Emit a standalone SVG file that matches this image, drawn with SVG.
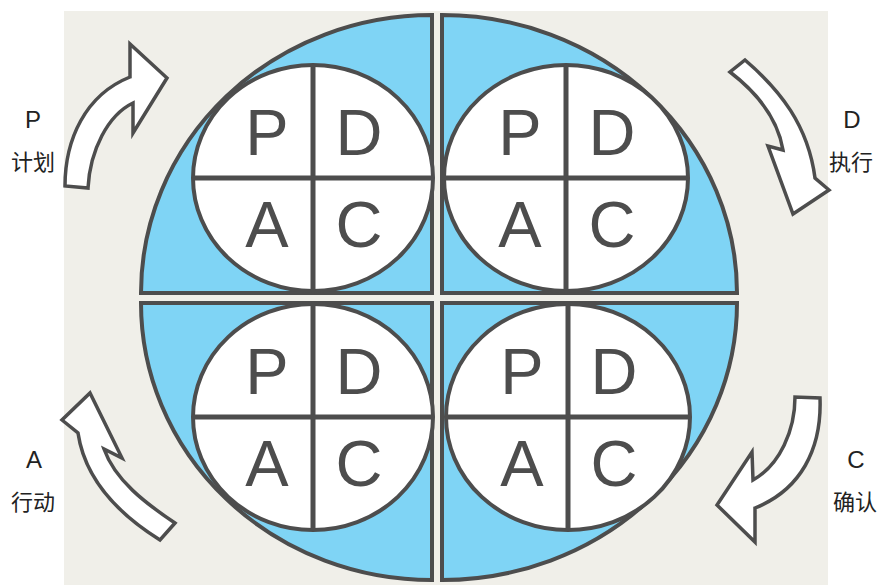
<svg xmlns="http://www.w3.org/2000/svg" width="877" height="585" viewBox="0 0 877 585">
<style>
.q{fill:#7fd4f5;stroke:#4d4d4d;stroke-width:4;stroke-linejoin:miter}
.c{fill:#ffffff;stroke:#4d4d4d;stroke-width:4}
.d{stroke:#4d4d4d;stroke-width:5}
.l{font-family:"Liberation Sans",Arial,sans-serif;font-size:65px;fill:#4d4d4d;text-anchor:middle}
.ar{fill:#ffffff;stroke:#4d4d4d;stroke-width:3.5;stroke-linejoin:miter}
.t{font-family:"Liberation Sans","Noto Sans CJK SC",sans-serif;fill:#222222;text-anchor:middle}
</style>
<rect x="0" y="0" width="877" height="585" fill="#ffffff"/>
<rect x="64" y="11" width="764" height="574" fill="#f0efe9"/>
<g id="quadrants">
<path class="q" d="M432,293 L141,293 A291,278 0 0 1 432,15 Z"/>
<path class="q" d="M442,293 L442,15 A295,278 0 0 1 737,293 Z"/>
<path class="q" d="M432,303 L432,580 A291,277 0 0 1 141,303 Z"/>
<path class="q" d="M442,303 L737,303 A295,277 0 0 1 442,580 Z"/>
</g>
<g id="pdca-tl">
<ellipse class="c" cx="313" cy="178" rx="120" ry="113"/>
<line class="d" x1="313" y1="65" x2="313" y2="291"/>
<line class="d" x1="193" y1="178" x2="433" y2="178"/>
<text class="l" x="267" y="155">P</text><text class="l" x="359" y="155">D</text>
<text class="l" x="267" y="247">A</text><text class="l" x="359" y="247">C</text>
</g>
<g id="pdca-tr">
<ellipse class="c" cx="566" cy="178" rx="122" ry="113"/>
<line class="d" x1="566" y1="65" x2="566" y2="291"/>
<line class="d" x1="444" y1="178" x2="688" y2="178"/>
<text class="l" x="520" y="155">P</text><text class="l" x="612" y="155">D</text>
<text class="l" x="520" y="247">A</text><text class="l" x="612" y="247">C</text>
</g>
<g id="pdca-bl">
<ellipse class="c" cx="313" cy="417" rx="120" ry="113"/>
<line class="d" x1="313" y1="304" x2="313" y2="530"/>
<line class="d" x1="193" y1="417" x2="433" y2="417"/>
<text class="l" x="267" y="394">P</text><text class="l" x="359" y="394">D</text>
<text class="l" x="267" y="486">A</text><text class="l" x="359" y="486">C</text>
</g>
<g id="pdca-br">
<ellipse class="c" cx="568" cy="417" rx="122" ry="113"/>
<line class="d" x1="568" y1="304" x2="568" y2="530"/>
<line class="d" x1="446" y1="417" x2="690" y2="417"/>
<text class="l" x="522" y="394">P</text><text class="l" x="614" y="394">D</text>
<text class="l" x="522" y="486">A</text><text class="l" x="614" y="486">C</text>
</g>
<g id="connectors">
<path class="ar" d="M65,186 C65,140 85,95 130,77 L130,44 L167,78 L133,133 L133,103 C108,115 90,150 88,188 Z"/>
<path class="ar" d="M745,60 C780,90 808,125 815,178 L829,190 L793,214 L768,146 L783,150 C778,120 760,95 730,72 Z"/>
<path class="ar" d="M820,398 C822,450 800,490 755,508 L755,542 L717,505 L752,452 L753,480 C780,465 795,430 795,397 Z"/>
<path class="ar" d="M175,523 C145,503 115,480 104,449 L122,458 L90,393 L62,420 L78,433 C85,480 120,515 160,540 Z"/>
</g>
<g id="labels">
<text class="t" x="33" y="128" font-size="24">P</text>
<text class="t" x="33" y="170" font-size="22">计划</text>
<text class="t" x="852" y="128" font-size="24">D</text>
<text class="t" x="851" y="170" font-size="22">执行</text>
<text class="t" x="34" y="468" font-size="24">A</text>
<text class="t" x="33" y="510" font-size="22">行动</text>
<text class="t" x="856" y="468" font-size="24">C</text>
<text class="t" x="855" y="510" font-size="22">确认</text>
</g>
</svg>
